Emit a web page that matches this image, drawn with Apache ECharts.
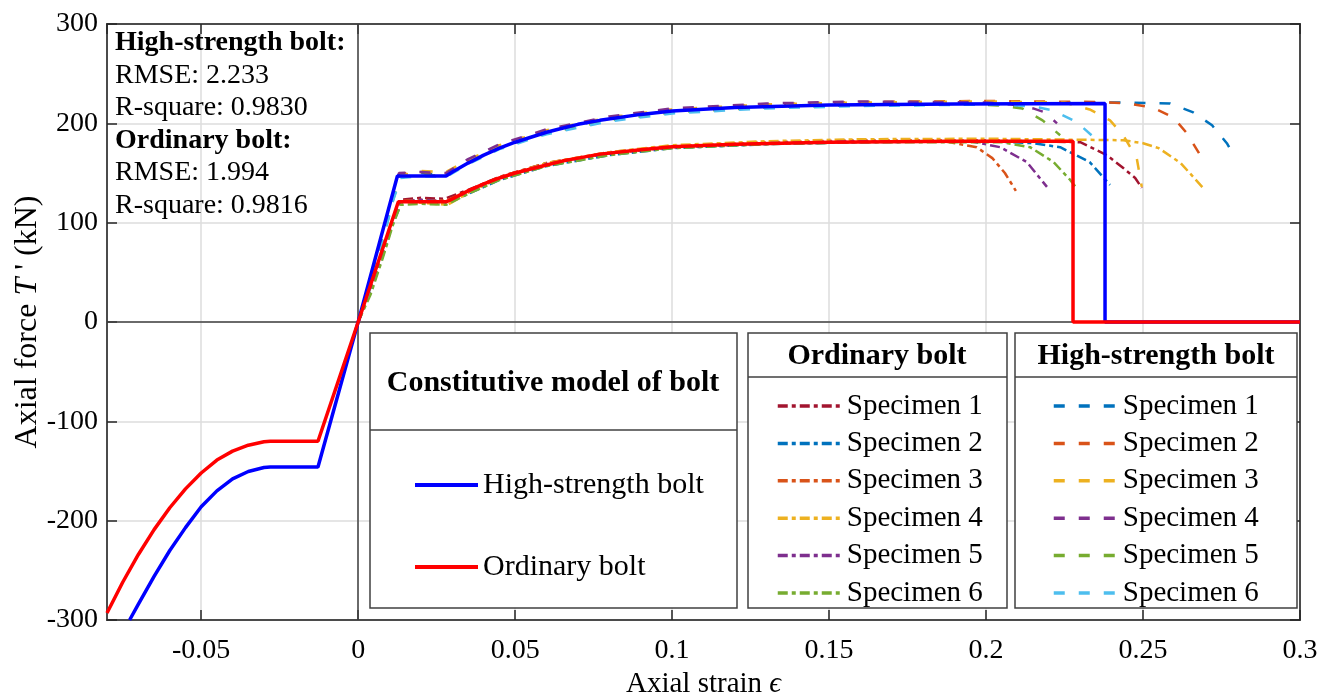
<!DOCTYPE html>
<html><head><meta charset="utf-8">
<script src="https://cdn.jsdelivr.net/npm/echarts@6/dist/echarts.min.js"></script>
<style>html,body{margin:0;padding:0;background:#fff}#c{width:1319px;height:693px}</style>
</head><body><div id="c"></div>
<script>
// ---- data ----
const hsModel = [[-0.0728,-300],[-0.07,-284],[-0.065,-256],[-0.06,-230],[-0.055,-207],[-0.05,-186],[-0.045,-170],[-0.04,-158],[-0.035,-150.5],[-0.03,-146.5],[-0.028,-146],[-0.0128,-146],[0,0],[0.0125,147],[0.028,147],[0.03,151],[0.035,160],[0.04,168],[0.045,175],[0.05,181],[0.055,186],[0.06,191],[0.065,195],[0.07,199],[0.077,203],[0.09,209],[0.1,212.5],[0.12,216],[0.15,218.5],[0.19,219.5],[0.2379,220],[0.2379,0],[0.3,0]];
const ordModel = [[-0.08,-293],[-0.075,-262],[-0.07,-234],[-0.065,-209],[-0.06,-187],[-0.055,-168],[-0.05,-152],[-0.045,-139],[-0.04,-130],[-0.035,-124],[-0.03,-120.5],[-0.028,-120],[-0.0128,-120],[0,0],[0.0128,121],[0.028,121],[0.03,124],[0.035,132],[0.04,139],[0.045,145],[0.05,150],[0.055,154],[0.06,158],[0.065,162],[0.07,165],[0.077,169],[0.09,173.5],[0.1,176.5],[0.12,179],[0.15,181],[0.19,182],[0.2277,182],[0.2277,0],[0.3,0]];

const ord1 = [[0,0],[0.004,32],[0.008,72],[0.011,102],[0.0135,123],[0.02,125],[0.0275,124],[0.035,133],[0.045,146],[0.06,160],[0.08,170],[0.1,176],[0.13,180],[0.16,182],[0.2,183],[0.23,181],[0.2385,168],[0.2437,155],[0.2475,145],[0.2496,135]];
const ord2 = [[0,0],[0.004,30],[0.008,68],[0.011,99],[0.014,121],[0.02,121],[0.028,119],[0.035,129],[0.045,143],[0.06,157],[0.08,168],[0.1,175],[0.13,179],[0.16,181],[0.2,182],[0.215,180],[0.2236,176],[0.233,161],[0.2395,138]];
const ord3 = [[0,0],[0.004,34],[0.008,74],[0.011,104],[0.0135,122],[0.02,123],[0.028,122],[0.035,132],[0.045,146],[0.06,160],[0.08,171],[0.1,177],[0.13,181],[0.16,183],[0.185,183],[0.197,176],[0.202,165],[0.206,150],[0.2095,132]];
const ord4 = [[0,0],[0.004,31],[0.008,70],[0.011,100],[0.014,122],[0.02,120],[0.0285,118],[0.035,130],[0.045,145],[0.06,160],[0.08,171],[0.1,178],[0.13,182],[0.16,184],[0.2,184.5],[0.2437,183],[0.25,180],[0.255,175],[0.262,160],[0.2697,133]];
const ord5 = [[0,0],[0.004,33],[0.008,71],[0.011,101],[0.0135,121],[0.02,123],[0.028,121],[0.035,131],[0.045,145],[0.06,159],[0.08,170],[0.1,176],[0.13,180],[0.16,182],[0.195,182],[0.2045,176],[0.213,161],[0.2194,136]];
const ord6 = [[0,0],[0.004,28],[0.008,66],[0.011,97],[0.0135,118],[0.02,119],[0.028,118],[0.035,129],[0.045,143],[0.06,157],[0.08,168],[0.1,175],[0.13,179],[0.16,181],[0.205,181],[0.214,176],[0.2215,161],[0.2268,143],[0.229,134]];

const hs1 = [[0,0],[0.004,38],[0.008,88],[0.011,126],[0.013,148],[0.02,150],[0.028,148],[0.035,162],[0.045,177],[0.06,192],[0.08,205],[0.1,213],[0.13,218],[0.16,220],[0.2,221],[0.24,221],[0.2586,220],[0.266,211],[0.272,198],[0.2767,180],[0.2796,164]];
const hs2 = [[0,0],[0.004,40],[0.008,90],[0.011,128],[0.013,149],[0.02,151],[0.028,150],[0.035,163],[0.045,178],[0.06,193],[0.08,206],[0.1,214],[0.13,219],[0.16,221.5],[0.2,222.5],[0.235,221.5],[0.245,220],[0.253,216],[0.2596,206],[0.264,190],[0.268,169]];
const hs3 = [[0,0],[0.004,37],[0.008,86],[0.011,125],[0.013,147],[0.02,152],[0.028,151],[0.035,163],[0.045,178],[0.06,193],[0.08,206],[0.1,214],[0.13,219],[0.16,221],[0.2,222],[0.225,221],[0.233,214],[0.2395,203],[0.2437,188],[0.248,165],[0.2496,136]];
const hs4 = [[0,0],[0.004,39],[0.008,89],[0.011,127],[0.013,150],[0.02,151],[0.028,150],[0.035,164],[0.045,179],[0.06,194],[0.08,207],[0.1,215],[0.13,220],[0.16,222],[0.2,221],[0.208,219],[0.215,215],[0.2188,211],[0.2226,200]];
const hs5 = [[0,0],[0.004,36],[0.008,84],[0.011,122],[0.0135,146],[0.02,148],[0.028,147],[0.035,160],[0.045,175],[0.06,190],[0.08,203],[0.1,211],[0.13,216],[0.16,218.5],[0.195,219.5],[0.204,218],[0.2115,215],[0.218,203],[0.2236,188]];
const hs6 = [[0,0],[0.004,35],[0.008,83],[0.011,121],[0.0135,145],[0.02,147],[0.028,146],[0.035,159],[0.045,174],[0.06,189],[0.08,202],[0.1,210],[0.13,215],[0.16,217.5],[0.205,219],[0.215,217],[0.2214,213],[0.229,201],[0.2336,188]];

const ordSpecimens = [ord1, ord2, ord3, ord4, ord5, ord6];
const hsSpecimens = [hs1, hs2, hs3, hs4, hs5, hs6];
const ordColors = ['#A2142F','#0072BD','#D95319','#EDB120','#7E2F8E','#77AC30'];
const hsColors = ['#0072BD','#D95319','#EDB120','#7E2F8E','#77AC30','#4DBEEE'];
const specimenLabels = ['Specimen 1','Specimen 2','Specimen 3','Specimen 4','Specimen 5','Specimen 6'];
const modelNames = ['High-strength bolt','Ordinary bolt'];
const statsLines = [
  ['High-strength bolt:', true], ['RMSE: 2.233', false], ['R-square: 0.9830', false],
  ['Ordinary bolt:', true], ['RMSE: 1.994', false], ['R-square: 0.9816', false]
];

// ---- chart ----
const FONT = "'Liberation Serif','Times New Roman',serif";
const chart = echarts.init(document.getElementById('c'), null, {renderer:'canvas'});

const series = [];
ordSpecimens.forEach((d, i) => series.push({
  type:'line', name:'ord' + (i+1), data:d, symbol:'none', z:2, animation:false,
  lineStyle:{color:ordColors[i], width:2.5, type:[10,4,4,4]}, itemStyle:{color:ordColors[i]}
}));
hsSpecimens.forEach((d, i) => series.push({
  type:'line', name:'hs' + (i+1), data:d, symbol:'none', z:2, animation:false,
  lineStyle:{color:hsColors[i], width:2.5, type:[11,14]}, itemStyle:{color:hsColors[i]}
}));
series.push({
  type:'line', name:modelNames[0], data:hsModel, symbol:'none', z:3, animation:false,
  lineStyle:{color:'#0000FF', width:3.5}, itemStyle:{color:'#0000FF'}
});
series.push({
  type:'line', name:modelNames[1], data:ordModel, symbol:'none', z:4, animation:false,
  lineStyle:{color:'#FF0000', width:3.5}, itemStyle:{color:'#FF0000'},
  markLine:{silent:true, z:1, symbol:['none','none'], label:{show:false},
    lineStyle:{color:'#404040', width:1.5, type:'solid'},
    data:[{xAxis:0},{yAxis:0}]}
});

const axisLineStyle = {show:true, onZero:false, lineStyle:{color:'#262626', width:1.5}};
const axisTickStyle = {show:true, inside:true, length:10, lineStyle:{color:'#262626', width:1.5}};

const graphic = [];
const boxes = [[370,333,367,275,430],[748,333,259,275,377],[1015,333,282,275,377]];
boxes.forEach(b => {
  graphic.push({type:'rect', z:5, shape:{x:b[0],y:b[1],width:b[2],height:b[3]},
    style:{fill:'#fff', stroke:'#404040', lineWidth:1.5}});
  graphic.push({type:'line', z:6, shape:{x1:b[0],y1:b[4],x2:b[0]+b[2],y2:b[4]},
    style:{stroke:'#404040', lineWidth:1.5}});
});
const titles = [['Constitutive model of bolt', 553, 383],['Ordinary bolt', 877, 356],['High-strength bolt', 1156, 356]];
titles.forEach(t => graphic.push({type:'text', z:6, x:t[1], y:t[2],
  style:{text:t[0], font:'bold 30px ' + FONT, fill:'#000', align:'center', verticalAlign:'middle'}}));
statsLines.forEach((s, i) => graphic.push({type:'text', z:6, x:115, y:43 + i*32.5,
  style:{text:s[0], font:(s[1]?'bold ':'') + '28px ' + FONT, fill:'#000', align:'left', verticalAlign:'middle'}}));

const specLegendText = {fontFamily:FONT, fontSize:29, color:'#000', lineHeight:29};
const option = {
  backgroundColor:'#fff',
  animation:false,
  grid:{left:107, right:19, top:24, bottom:73, outerBoundsMode:'none', containLabel:false,
    show:true, borderColor:'#262626', borderWidth:1.5, backgroundColor:'transparent'},
  xAxis:[
    {type:'value', min:-0.08, max:0.3, splitNumber:7, position:'bottom',
      name:'Axial strain {i|ϵ}', nameLocation:'middle', nameGap:48,
      nameTextStyle:{fontFamily:FONT, fontSize:29, color:'#000', rich:{i:{fontFamily:FONT, fontSize:29, fontStyle:'italic', color:'#000'}}},
      axisLine:axisLineStyle, axisTick:axisTickStyle,
      axisLabel:{fontFamily:FONT, fontSize:28, color:'#000', margin:17, showMinLabel:false, showMaxLabel:true},
      splitLine:{show:true, lineStyle:{color:'#dcdcdc', width:1.5}}},
    {type:'value', min:-0.08, max:0.3, splitNumber:7, position:'top',
      axisLine:axisLineStyle, axisTick:axisTickStyle,
      axisLabel:{show:false}, splitLine:{show:false}}
  ],
  yAxis:[
    {type:'value', min:-300, max:300, interval:100, position:'left',
      name:"Axial force {i|T} ' (kN)", nameLocation:'middle', nameGap:63, nameRotate:90, nameMoveOverlap:false,
      nameTextStyle:{fontFamily:FONT, fontSize:32, color:'#000', rich:{i:{fontFamily:FONT, fontSize:32, fontStyle:'italic', color:'#000'}}},
      axisLine:axisLineStyle, axisTick:axisTickStyle,
      axisLabel:{fontFamily:FONT, fontSize:28, color:'#000', margin:9},
      splitLine:{show:true, lineStyle:{color:'#dcdcdc', width:1.5}}},
    {type:'value', min:-300, max:300, interval:100, position:'right',
      axisLine:axisLineStyle, axisTick:axisTickStyle,
      axisLabel:{show:false}, splitLine:{show:false}}
  ],
  legend:[
    {data:modelNames, orient:'vertical', left:408, top:465, itemWidth:63, itemHeight:14, itemGap:52,
      selectedMode:false, z:10, itemStyle:{opacity:0}, lineStyle:{width:4},
      textStyle:{fontFamily:FONT, fontSize:30, color:'#000', lineHeight:30}},
    {data:['ord1','ord2','ord3','ord4','ord5','ord6'], orient:'vertical', left:771, top:386.5, itemWidth:64, itemHeight:14, itemGap:8.4,
      formatter:n => specimenLabels[+n.slice(-1) - 1], selectedMode:false, z:10,
      itemStyle:{opacity:0}, lineStyle:{width:3.5}, textStyle:specLegendText},
    {data:['hs1','hs2','hs3','hs4','hs5','hs6'], orient:'vertical', left:1047, top:386.5, itemWidth:64, itemHeight:14, itemGap:8.4,
      formatter:n => specimenLabels[+n.slice(-1) - 1], selectedMode:false, z:10,
      itemStyle:{opacity:0}, lineStyle:{width:3.5}, textStyle:specLegendText}
  ],
  graphic:graphic,
  series:series
};
chart.setOption(option);
</script>
</body></html>
